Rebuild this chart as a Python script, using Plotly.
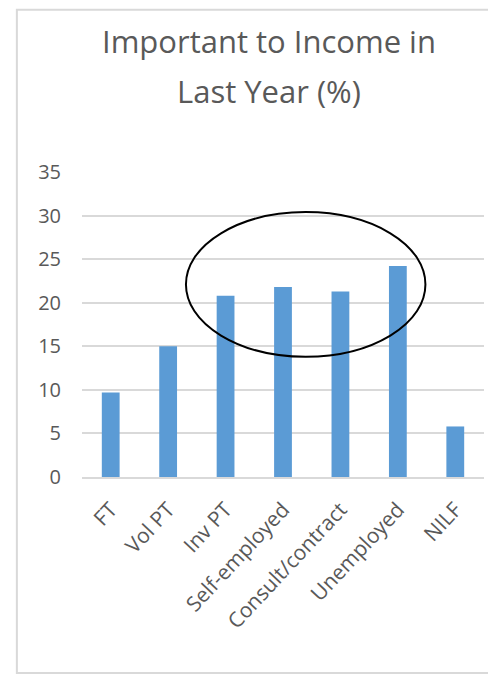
import plotly.graph_objects as go

categories = ["FT", "Vol PT", "Inv PT", "Self-employed", "Consult/contract", "Unemployed", "NILF"]
values = [9.7, 15.0, 20.8, 21.8, 21.3, 24.2, 5.8]
y_ticks = [0, 5, 10, 15, 20, 25, 30, 35]
title_lines = ["Important to Income in", "Last Year (%)"]

GRAY = "#595959"
FONT = "Open Sans, Lato, sans-serif"

fig = go.Figure(
    go.Bar(
        x=categories,
        y=values,
        marker=dict(color="#5B9BD5", line=dict(width=0)),
        showlegend=False,
    )
)

# page body adds an 8px margin, so the figure is a bit smaller than the window
fig.update_layout(
    width=488,
    height=666,
    margin=dict(l=74, r=12, t=164, b=197, autoexpand=False),
    paper_bgcolor="white",
    plot_bgcolor="white",
    bargap=0.69,
    font=dict(family=FONT, color=GRAY, size=20),
)

fig.update_yaxes(
    range=[0, 35],
    tickvals=y_ticks,
    showgrid=True,
    gridcolor="#d9d9d9",
    gridwidth=2,
    zeroline=False,
    showline=False,
    ticks="",
    automargin=False,
    ticklabelstandoff=20,
    tickfont=dict(size=20, color=GRAY),
)
fig.update_xaxes(
    tickangle=-47,
    showline=True,
    linecolor="#d9d9d9",
    linewidth=2,
    ticks="",
    automargin=False,
    ticklabelstandoff=10,
    tickfont=dict(size=21, color=GRAY),
)

# title as two separate lines (wide line spacing in the original)
for txt, yy in zip(title_lines, [1.43, 1.265]):
    fig.add_annotation(
        text=txt, x=0.465, y=yy, xref="paper", yref="paper",
        showarrow=False, xanchor="center", yanchor="middle",
        font=dict(size=31, color=GRAY, family=FONT),
    )

# highlight ellipse around the middle bars
fig.add_shape(
    type="circle", xref="x", yref="y",
    x0=1.31, x1=5.48, y0=13.8, y1=30.4,
    line=dict(color="black", width=2),
)

# chart frame
fig.add_shape(
    type="rect", xref="paper", yref="paper",
    x0=-0.162, x1=1.06, y0=-0.643, y1=1.532,
    line=dict(color="#d9d9d9", width=2), layer="below",
)

fig.write_html("out.html")
